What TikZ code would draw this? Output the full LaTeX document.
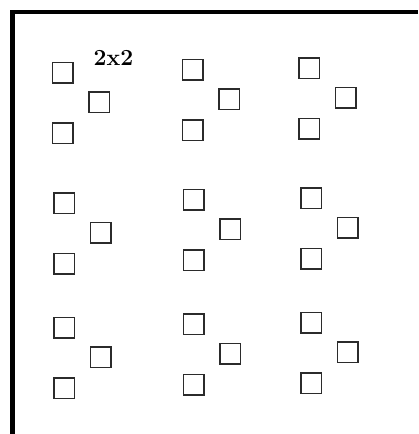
\documentclass[tikz,border=0pt]{standalone}
\usepackage{tikz}
\usepackage{xcolor}
\usetikzlibrary{positioning,calc}
\definecolor{gridink}{HTML}{2B2B2B}
\definecolor{frameink}{HTML}{000000}

\begin{document}
\begin{tikzpicture}[
  x=1pt, y=-1pt,
  cell/.style={draw=gridink, line width=1.5pt, minimum size=20.5pt, inner sep=0pt, rectangle},
  tag/.style={font=\fontsize{23}{26}\selectfont\bfseries, text=frameink, inner sep=0pt},
]
\useasboundingbox (0,0) rectangle (418,434);
% frame: only top and left edges show
\draw[frameink, line width=4.5pt] (12.5,434) |- (418,12);

% groups of three cells, one per slot of the 3x3 layout
\foreach \g/\xa/\ya in {
  11/62.5/72.5, 12/192.5/69.5, 13/309/68,
  21/64/203,    22/193.5/199.5, 23/311/198,
  31/64/327.5,  32/193.5/324,   33/311/322.5
} {
  \pgfmathsetmacro{\xm}{\xa + 36.5}
  \pgfmathsetmacro{\ym}{\ya + 29.5}
  \pgfmathsetmacro{\yb}{\ya + 60.5}
  \node[cell] (c\g-top) at (\xa,\ya) {};
  \node[cell] (c\g-mid) at (\xm,\ym) {};
  \node[cell] (c\g-bot) at (\xa,\yb) {};
}
\node[tag] (size) at (113.5,57.5) {2x2};
\end{tikzpicture}
\end{document}
